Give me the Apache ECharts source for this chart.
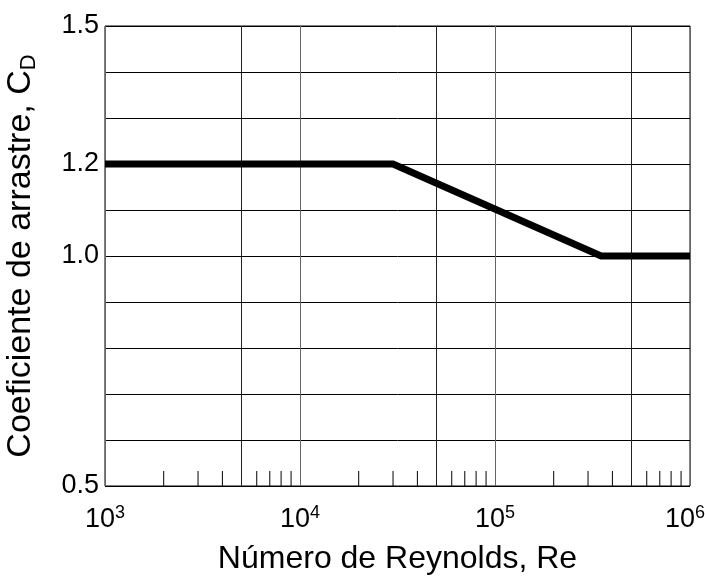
<!DOCTYPE html>
<html>
<head>
<meta charset="utf-8">
<script src="https://cdn.jsdelivr.net/npm/echarts@6/dist/echarts.min.js"></script>
<style>
  html, body { margin: 0; padding: 0; background: #fff; }
  #main { width: 705px; height: 579px; }
</style>
</head>
<body>
<div id="main"></div>
<script>
var myChart = echarts.init(document.getElementById('main'));

// datos de la curva C_D vs Re
var reynolds = [1e3, 3e4, 3.5e5, 1e6];
var cd = [1.2, 1.2, 1.0, 1.0];

// etiquetas visibles del eje y
var yLabels = [0.5, 1.0, 1.2, 1.5];

// lineas de rejilla extra (5 x 10^n) y marcas menores
var midGrid = [5e3, 5e4, 5e5];
var minorTicks = [2e3, 3e3, 4e3, 6e3, 7e3, 8e3, 9e3,
                  2e4, 3e4, 4e4, 6e4, 7e4, 8e4, 9e4,
                  2e5, 3e5, 4e5, 6e5, 7e5, 8e5, 9e5];

var font = "'Liberation Sans', Arial, sans-serif";

var lineData = reynolds.map(function (r, i) { return [r, cd[i]]; });

var option = {
    backgroundColor: '#fff',
    animation: false,
    grid: {
        left: 105,
        right: 15,
        top: 26,
        bottom: 93,
        outerBoundsMode: 'none',
        containLabel: false,
        show: true,
        borderColor: '#000',
        borderWidth: 1
    },
    xAxis: {
        type: 'log',
        logBase: 10,
        min: 1e3,
        max: 1e6,
        name: 'Número de Reynolds, Re',
        nameLocation: 'middle',
        nameGap: 57,
        nameTextStyle: { fontFamily: font, fontSize: 32, color: '#000' },
        axisLine: { show: false },
        axisTick: { show: false },
        axisLabel: {
            margin: 18,
            color: '#000',
            formatter: function (v) {
                var e = Math.round(Math.log10(v));
                // la ultima etiqueta se corre un poco para que quepa
                return '{b|10}{' + (v >= 1e6 ? 'supl' : 'sup') + '|' + e + '}';
            },
            rich: {
                b: { fontFamily: font, fontSize: 27, color: '#000' },
                sup: { fontFamily: font, fontSize: 18, color: '#000', verticalAlign: 'bottom', padding: [0, 0, 14, 0] },
                supl: { fontFamily: font, fontSize: 18, color: '#000', verticalAlign: 'bottom', padding: [0, 10, 14, 0] }
            }
        },
        splitLine: { show: true, lineStyle: { color: '#666', width: 1 } }
    },
    yAxis: {
        type: 'value',
        min: 0.5,
        max: 1.5,
        interval: 0.1,
        name: '{n|Coeficiente de arrastre, C}{sub|D}',
        nameLocation: 'middle',
        nameGap: 65,
        nameTextStyle: {
            rich: {
                n: { fontFamily: font, fontSize: 34, color: '#000' },
                sub: { fontFamily: font, fontSize: 22, color: '#000', verticalAlign: 'top', padding: [16, 0, 0, 0] }
            }
        },
        axisLine: { show: false },
        axisTick: { show: false },
        axisLabel: {
            margin: 6,
            fontFamily: font,
            fontSize: 27,
            color: '#000',
            formatter: function (v) {
                for (var i = 0; i < yLabels.length; i++) {
                    if (Math.abs(v - yLabels[i]) < 1e-6) return v.toFixed(1);
                }
                return '';
            }
        },
        splitLine: { show: true, lineStyle: { color: '#000', width: 1 } }
    },
    series: [
        {
            type: 'custom',
            silent: true,
            z: 1,
            renderItem: function (params, api) {
                var p = api.coord([api.value(0), 0.5]);
                return {
                    type: 'line',
                    shape: { x1: p[0], y1: p[1], x2: p[0], y2: p[1] - 15 },
                    style: { stroke: '#000', lineWidth: 1 }
                };
            },
            encode: { x: 0 },
            data: minorTicks.map(function (t) { return [t]; })
        },
        {
            type: 'line',
            data: lineData,
            symbol: 'none',
            z: 5,
            lineStyle: { color: '#000', width: 7, join: 'miter' },
            markLine: {
                silent: true,
                symbol: 'none',
                label: { show: false },
                lineStyle: { color: '#222', width: 1, type: 'solid' },
                data: midGrid.map(function (g) { return { xAxis: g }; })
            }
        }
    ]
};

myChart.setOption(option);
</script>
</body>
</html>
